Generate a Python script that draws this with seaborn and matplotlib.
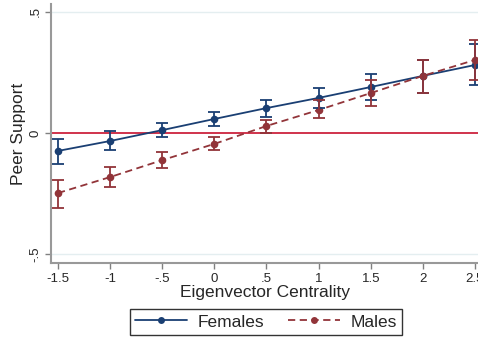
import matplotlib
matplotlib.use("Agg")
import matplotlib.pyplot as plt
import seaborn as sns
import pandas as pd
import numpy as np

x_vals = [-1.5, -1.0, -0.5, 0.0, 0.5, 1.0, 1.5, 2.0, 2.5]
fem_mean = [-0.074, -0.033, 0.012, 0.058, 0.103, 0.145, 0.190, 0.236, 0.281]
fem_lo = [-0.128, -0.070, -0.017, 0.029, 0.066, 0.103, 0.136, 0.167, 0.198]
fem_hi = [-0.025, 0.008, 0.041, 0.087, 0.136, 0.186, 0.244, 0.302, 0.368]
mal_mean = [-0.248, -0.182, -0.112, -0.045, 0.029, 0.095, 0.165, 0.236, 0.302]
mal_lo = [-0.310, -0.223, -0.145, -0.070, 0.000, 0.062, 0.112, 0.165, 0.219]
mal_hi = [-0.194, -0.140, -0.079, -0.017, 0.054, 0.136, 0.219, 0.302, 0.384]
x_ticks = [-1.5, -1.0, -0.5, 0.0, 0.5, 1.0, 1.5, 2.0, 2.5]
x_ticklabels = ["-1.5", "-1", "-.5", "0", ".5", "1", "1.5", "2", "2.5"]
y_ticks = [-0.5, 0.0, 0.5]
y_ticklabels = ["-.5", "0", ".5"]

sns.set_style("white")
plt.rcParams['font.family'] = ['Liberation Sans', 'DejaVu Sans']

navy = "#1a3f73"
maroon = "#923439"

df = pd.DataFrame({
    "x": x_vals * 2,
    "y": fem_mean + mal_mean,
    "g": ["Females"] * len(x_vals) + ["Males"] * len(x_vals),
})

fig = plt.figure(figsize=(4.78, 3.39), dpi=100)
ax = fig.add_axes([51/478, (339-263)/339, (478-51)/478, (263-4)/339])

ax.axhline(0.5, color="#e4eef0", lw=1, zorder=0)
ax.axhline(-0.5, color="#e4eef0", lw=1, zorder=0)
ax.axhline(0, color="#c8102e", lw=1.2, zorder=1)

sns.lineplot(data=df, x="x", y="y", hue="g", style="g",
             palette={"Females": navy, "Males": maroon},
             dashes={"Females": "", "Males": (4, 2.5)},
             markers={"Females": "o", "Males": "o"},
             markersize=5.5, markeredgewidth=0, linewidth=1.3, ax=ax, legend=False, zorder=3)

for m, lo, hi, c in [(fem_mean, fem_lo, fem_hi, navy), (mal_mean, mal_lo, mal_hi, maroon)]:
    m = np.array(m); lo = np.array(lo); hi = np.array(hi)
    ax.errorbar(x_vals, m, yerr=[m - lo, hi - m], fmt="none", ecolor=c,
                elinewidth=1.3, capsize=4, capthick=1.3, zorder=3)

ax.set_xlim(-1.567, 2.529)
ax.set_ylim(-0.537, 0.533)
ax.set_xticks(x_ticks)
ax.set_xticklabels(x_ticklabels, fontsize=9.5)
ax.set_yticks(y_ticks)
ax.set_yticklabels(y_ticklabels, fontsize=9.5, rotation=90, va="center")
ax.tick_params(axis="both", length=4, width=1, color="#808080", direction="out", bottom=True, left=True, pad=3)
for s in ["top", "right"]:
    ax.spines[s].set_visible(False)
for s in ["left", "bottom"]:
    ax.spines[s].set_color("#999999")
    ax.spines[s].set_linewidth(1.5)
ax.set_xlabel("Eigenvector Centrality", fontsize=12.5, labelpad=0)
ax.set_ylabel("Peer Support", fontsize=12.5)
ax.yaxis.set_label_coords(-0.058, 0.5)

from matplotlib.lines import Line2D
handles = [Line2D([], [], color=navy, lw=1.3, marker="o", markersize=5, markeredgewidth=0),
           Line2D([], [], color=maroon, lw=1.3, ls=(0, (4, 2.5)), marker="o", markersize=5, markeredgewidth=0)]
leg = fig.legend(handles, ["Females", "Males"], loc="center", bbox_to_anchor=(266/478, 1 - 322/339),
                 ncol=2, fontsize=12.5, frameon=True, fancybox=False, handlelength=3.0,
                 columnspacing=1.4, borderpad=0.3, borderaxespad=0, handletextpad=0.6)
leg.get_frame().set_edgecolor("black")
leg.get_frame().set_linewidth(1)

fig.savefig("out.png", dpi=100)
